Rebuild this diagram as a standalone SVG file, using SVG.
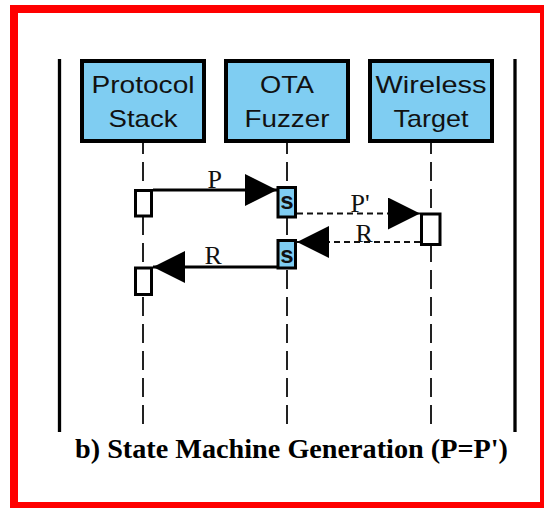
<svg xmlns="http://www.w3.org/2000/svg" width="544" height="508" viewBox="0 0 544 508">
<style>
.frame{fill:none;stroke:#ff0000;stroke-width:8}
.bar{stroke:#000;stroke-width:3.3}
.hdr{fill:#7fcdf2;stroke:#000;stroke-width:4}
.hdrt{font-family:"Liberation Sans",Arial,sans-serif;font-size:24px;fill:#111;text-anchor:middle}
.life{stroke:#222;stroke-width:2;stroke-dasharray:19 8;stroke-dashoffset:8}
.act{fill:#fff;stroke:#000;stroke-width:3}
.sbox{fill:#7fcdf2;stroke:#000;stroke-width:3}
.st{font-family:"Liberation Sans",Arial,sans-serif;font-size:24px;font-weight:bold;fill:#111;text-anchor:middle}
.msg{stroke:#000;stroke-width:3;fill:none}
.dmsg{stroke:#111;stroke-width:2;stroke-dasharray:6 4;fill:none}
.lbl{font-family:"Liberation Serif","Times New Roman",serif;font-size:26px;fill:#111}
.cap{font-family:"Liberation Serif","Times New Roman",serif;font-size:28px;font-weight:bold;fill:#000}
</style>
<defs>
<marker id="ah" markerUnits="userSpaceOnUse" markerWidth="32" markerHeight="32" refX="32" refY="16" orient="auto">
<path d="M0,0 L32,16 L0,32 Z" fill="#000"/>
</marker>
</defs>
<rect width="544" height="508" fill="#fff"/>
<rect class="frame" x="14" y="9" width="530" height="497"/>
<line class="bar" x1="59.5" y1="59" x2="59.5" y2="432"/>
<line class="bar" x1="515" y1="59" x2="515" y2="432"/>

<g id="protocol-stack">
<line class="life" x1="143" y1="143" x2="143" y2="424"/>
<rect class="hdr" x="82" y="61" width="122" height="80"/>
<text class="hdrt" x="143" y="93" textLength="103" lengthAdjust="spacingAndGlyphs">Protocol</text>
<text class="hdrt" x="143" y="126.5" textLength="69" lengthAdjust="spacingAndGlyphs">Stack</text>
<rect class="act" x="135.5" y="190.5" width="16" height="25.5"/>
<rect class="act" x="135.5" y="268" width="16" height="26.5"/>
</g>

<g id="ota-fuzzer">
<line class="life" x1="287" y1="143" x2="287" y2="424"/>
<rect class="hdr" x="226" y="61" width="122" height="80"/>
<text class="hdrt" x="287" y="93" textLength="54" lengthAdjust="spacingAndGlyphs">OTA</text>
<text class="hdrt" x="287" y="126.5" textLength="85" lengthAdjust="spacingAndGlyphs">Fuzzer</text>
<rect class="sbox" x="278" y="187.5" width="17.5" height="29.5"/>
<text class="st" x="287" y="208.5">s</text>
<rect class="sbox" x="278" y="240.5" width="17.5" height="27.5"/>
<text class="st" x="287" y="262.5">s</text>
</g>

<g id="wireless-target">
<line class="life" x1="431" y1="143" x2="431" y2="424"/>
<rect class="hdr" x="370" y="61" width="122" height="80"/>
<text class="hdrt" x="431" y="93" textLength="111" lengthAdjust="spacingAndGlyphs">Wireless</text>
<text class="hdrt" x="431" y="126.5" textLength="75" lengthAdjust="spacingAndGlyphs">Target</text>
<rect class="act" x="421.5" y="214" width="18.5" height="30.5"/>
</g>

<g id="connectors">
<line class="msg" x1="153" y1="190" x2="277" y2="190" marker-end="url(#ah)"/>
<text class="lbl" x="207.5" y="188">P</text>
<line class="dmsg" x1="297" y1="213.5" x2="420" y2="213.5" marker-end="url(#ah)"/>
<text class="lbl" x="350.5" y="211.5">P'</text>
<line class="dmsg" x1="420" y1="242" x2="297" y2="242" marker-end="url(#ah)"/>
<text class="lbl" x="355.5" y="241.5">R</text>
<line class="msg" x1="277" y1="267" x2="153" y2="267" marker-end="url(#ah)"/>
<text class="lbl" x="204.5" y="263.5">R</text>
</g>

<text class="cap" x="75" y="458" textLength="433" lengthAdjust="spacingAndGlyphs">b) State Machine Generation (P=P')</text>
</svg>
